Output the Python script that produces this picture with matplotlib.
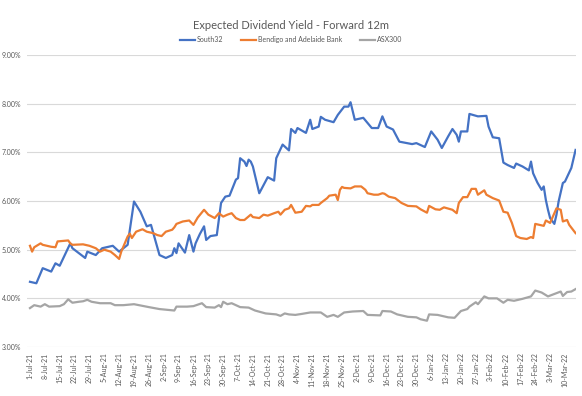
import matplotlib
matplotlib.use("Agg")
import matplotlib.pyplot as plt
import pandas as pd
import numpy as np

START = "2021-07-01"

# days after 1-Jul-21, yield in %
south32_days = [0, 3, 6, 10, 12, 14, 19, 20, 26, 27, 31, 34, 39, 42, 46, 49, 52, 55, 57, 61,
                64, 67, 68, 69, 70, 73, 75, 77, 78, 80, 82, 83, 85, 88, 90, 92, 94, 97, 98, 99,
                101, 102, 103, 104, 105, 108, 112, 115, 116, 119, 122, 123, 125, 126, 130, 132, 133, 136, 137, 139,
                143, 145, 148, 150, 151, 153, 157, 161, 164, 166, 168, 171, 174, 180, 182, 186, 189, 192, 194, 197,
                199, 201, 202, 203, 206, 207, 211, 215, 216, 218, 221, 223, 225, 228, 229, 232, 235, 236, 237, 239,
                241, 242, 243, 244, 245, 247, 248, 249, 251, 252, 255, 257]
south32 = [4.34, 4.31, 4.62, 4.55, 4.72, 4.67, 5.13, 5.03, 4.83, 4.96, 4.89, 5.03, 5.08, 4.96, 5.10, 5.99, 5.78, 5.48, 5.51, 4.89,
           4.83, 4.89, 5.03, 4.93, 5.13, 4.94, 5.30, 4.96, 5.13, 5.32, 5.48, 5.20, 5.28, 5.30, 5.96, 6.09, 6.11, 6.44, 6.47, 6.88,
           6.81, 6.72, 6.85, 6.81, 6.71, 6.16, 6.49, 6.42, 6.88, 7.16, 7.04, 7.48, 7.40, 7.50, 7.40, 7.67, 7.48, 7.53, 7.73, 7.67,
           7.62, 7.77, 7.94, 7.94, 8.03, 7.67, 7.71, 7.50, 7.50, 7.74, 7.53, 7.47, 7.22, 7.17, 7.19, 7.11, 7.43, 7.26, 7.09, 7.33,
           7.48, 7.36, 7.22, 7.43, 7.43, 7.79, 7.74, 7.75, 7.53, 7.31, 7.29, 6.79, 6.74, 6.68, 6.77, 6.71, 6.63, 6.81, 6.57, 6.38,
           6.23, 6.30, 6.02, 5.82, 5.65, 5.53, 5.72, 5.99, 6.37, 6.40, 6.68, 7.05]

bendigo_days = [0, 1, 2, 5, 6, 10, 12, 13, 18, 19, 20, 25, 28, 31, 33, 35, 38, 40, 42, 43,
                46, 47, 48, 50, 53, 55, 58, 60, 62, 64, 67, 68, 69, 72, 75, 77, 79, 82, 84, 87,
                89, 91, 93, 95, 97, 99, 101, 104, 105, 108, 110, 112, 115, 117, 118, 120, 122, 123, 125, 128,
                130, 132, 133, 136, 137, 140, 141, 144, 145, 146, 147, 148, 151, 153, 156, 158, 159, 162, 164, 166,
                167, 169, 172, 175, 178, 182, 184, 187, 188, 191, 193, 195, 199, 201, 202, 204, 206, 208, 210, 211,
                214, 215, 218, 221, 223, 225, 227, 229, 231, 234, 236, 237, 238, 240, 242, 243, 245, 246, 248, 250,
                251, 253, 254, 257]
bendigo = [5.08, 4.96, 5.05, 5.13, 5.10, 5.06, 5.05, 5.17, 5.19, 5.13, 5.10, 5.11, 5.08, 5.03, 4.96, 5.00, 4.96, 4.89, 4.81, 4.96,
           5.27, 5.33, 5.24, 5.37, 5.42, 5.37, 5.34, 5.30, 5.28, 5.37, 5.41, 5.46, 5.53, 5.58, 5.60, 5.51, 5.66, 5.82, 5.72, 5.65,
           5.75, 5.68, 5.72, 5.75, 5.65, 5.61, 5.61, 5.72, 5.67, 5.65, 5.72, 5.70, 5.75, 5.78, 5.72, 5.82, 5.85, 5.92, 5.76, 5.78,
           5.90, 5.89, 5.92, 5.92, 5.96, 6.06, 6.11, 6.13, 6.02, 6.23, 6.29, 6.27, 6.26, 6.30, 6.30, 6.23, 6.16, 6.13, 6.13, 6.16,
           6.15, 6.09, 6.06, 5.96, 5.90, 5.89, 5.83, 5.76, 5.90, 5.83, 5.82, 5.87, 5.82, 5.75, 5.96, 6.08, 6.08, 6.25, 6.25, 6.13,
           6.22, 6.13, 6.06, 6.01, 5.78, 5.76, 5.55, 5.28, 5.24, 5.22, 5.26, 5.24, 5.53, 5.51, 5.49, 5.60, 5.55, 5.65, 5.85, 5.82,
           5.58, 5.61, 5.51, 5.34]

asx_days = [0, 2, 5, 7, 9, 14, 16, 18, 20, 23, 25, 27, 29, 33, 38, 40, 44, 49, 56, 61,
            68, 69, 74, 77, 81, 83, 87, 89, 90, 91, 93, 95, 99, 103, 106, 111, 116, 118, 120, 122,
            125, 128, 132, 137, 140, 143, 145, 148, 152, 157, 159, 165, 166, 170, 173, 178, 182, 184, 187, 188,
            192, 197, 200, 203, 206, 207, 210, 211, 214, 216, 220, 223, 225, 228, 232, 236, 238, 241, 244, 247,
            250, 251, 253, 255, 257]
asx300 = [3.80, 3.86, 3.83, 3.88, 3.83, 3.84, 3.88, 3.98, 3.91, 3.93, 3.94, 3.97, 3.93, 3.90, 3.90, 3.86, 3.86, 3.88, 3.82, 3.78,
          3.75, 3.83, 3.83, 3.84, 3.90, 3.82, 3.81, 3.86, 3.82, 3.93, 3.88, 3.90, 3.82, 3.81, 3.75, 3.69, 3.67, 3.64, 3.69, 3.67,
          3.66, 3.68, 3.71, 3.71, 3.62, 3.66, 3.62, 3.71, 3.73, 3.74, 3.66, 3.65, 3.74, 3.73, 3.67, 3.62, 3.61, 3.57, 3.54, 3.67,
          3.66, 3.61, 3.60, 3.74, 3.78, 3.83, 3.92, 3.88, 4.04, 4.00, 4.00, 3.91, 3.97, 3.95, 3.99, 4.04, 4.16, 4.12, 4.04, 4.09,
          4.14, 4.05, 4.13, 4.14, 4.19]

series_names = ["South32", "Bendigo and Adelaide Bank", "ASX300"]
colors = ["#4472C4", "#ED7D31", "#A5A5A5"]


def to_dates(days):
    return pd.Timestamp(START) + pd.to_timedelta(days, unit="D")


plt.rcParams['font.family'] = ['Lato', 'DejaVu Sans']

fig = plt.figure(figsize=(5.82, 3.96), dpi=100)
ax = fig.add_axes([0.0464, 0.1237, 0.9433, 0.7373])

for days, vals, name, c in zip([south32_days, bendigo_days, asx_days],
                               [south32, bendigo, asx300], series_names, colors):
    ax.plot(to_dates(days), vals, color=c, lw=1.6, label=name, solid_joinstyle="round")

ax.set_ylim(3, 9)
ax.set_yticks(np.arange(3, 9.01, 1))
ax.set_yticklabels([f"{v:.2f}%" for v in np.arange(3, 9.01, 1)])
ax.yaxis.grid(True, color="#D9D9D9", lw=0.8)
ax.set_axisbelow(True)

ticks = pd.date_range(START, "2022-03-10", freq="7D")
ax.set_xticks(ticks)
ax.set_xticklabels([f"{d.day}-{d.strftime('%b-%y')}" for d in ticks], rotation=90)
ax.set_xlim(pd.Timestamp(START) - pd.Timedelta(days=1.4), pd.Timestamp(START) + pd.Timedelta(days=257.2))

ax.tick_params(axis="both", length=0, labelsize=5, colors="#595959", pad=4)
for s in ax.spines.values():
    s.set_visible(False)

fig.suptitle("Expected Dividend Yield - Forward 12m", y=0.95, fontsize=8, color="#595959")
ax.legend(loc="center", bbox_to_anchor=(0.5, 0.9), bbox_transform=fig.transFigure, ncol=3,
          frameon=False, fontsize=5, handlelength=2.2, columnspacing=2.5, handletextpad=0.3,
          labelcolor="#595959")

fig.savefig("out.png", dpi=100)
